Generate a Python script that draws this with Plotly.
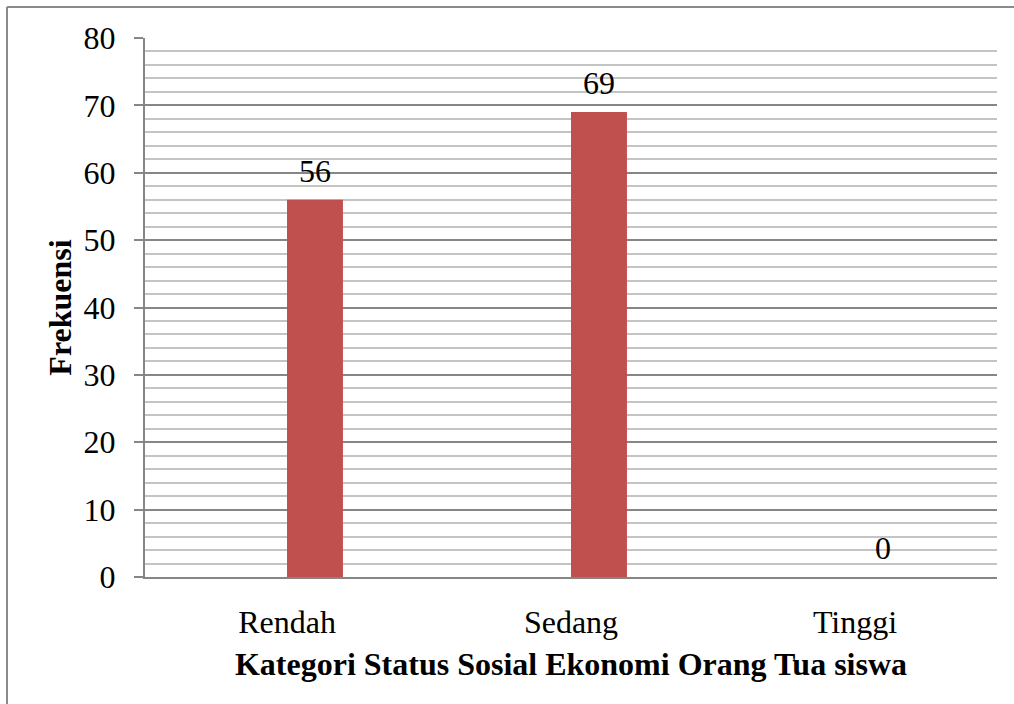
import plotly.graph_objects as go

categories = ["Rendah", "Sedang", "Tinggi"]
values = [56, 69, 0]
blank_series = [None, None, None]
y_ticks = [0, 10, 20, 30, 40, 50, 60, 70, 80]

FONT = "'Liberation Serif', 'Times New Roman', serif"
FS = 32
BAR_COLOR = "#C0504D"

fig = go.Figure()
fig.add_trace(go.Bar(x=categories, y=blank_series, marker_color="rgba(0,0,0,0)",
                     showlegend=False, hoverinfo="skip"))
fig.add_trace(go.Bar(x=categories, y=values, marker_color=BAR_COLOR,
                     marker_line_width=0, showlegend=False))

for c, v in zip(categories, values):
    fig.add_annotation(x=c, y=v, xref="x", yref="y", text=str(v), showarrow=False,
                       xshift=28, yshift=29, yanchor="middle",
                       font=dict(family=FONT, size=FS, color="black"))

fig.update_layout(
    width=1014, height=704,
    margin=dict(l=145, r=17, t=38, b=127),
    paper_bgcolor="white", plot_bgcolor="white",
    barmode="group", bargap=0.606, bargroupgap=0,
    font=dict(family=FONT, size=FS, color="black"),
)
fig.update_xaxes(
    type="category", range=[-0.5, 2.5],
    showline=True, linecolor="#868686", linewidth=2,
    showgrid=False, ticks="outside", ticklen=16, tickcolor="rgba(0,0,0,0)",
    tickfont=dict(family=FONT, size=FS, color="black"),
    title=dict(text="<b>Kategori Status Sosial Ekonomi Orang Tua siswa</b>",
               font=dict(family=FONT, size=FS, color="black"), standoff=13),
)
fig.update_yaxes(
    range=[0, 80], tickvals=y_ticks, ticktext=[str(t) for t in y_ticks],
    showline=True, linecolor="#868686", linewidth=2,
    showgrid=True, gridcolor="#868686", gridwidth=2,
    ticks="outside", ticklen=9, tickcolor="#868686", tickwidth=2,
    ticklabelstandoff=12,
    tickfont=dict(family=FONT, size=FS, color="black"),
    minor=dict(dtick=2, showgrid=True, gridcolor="#c4c4c4", gridwidth=2),
    zeroline=False,
    title=dict(text="<b>Frekuensi</b>", font=dict(family=FONT, size=FS, color="black"),
               standoff=2),
)

# image frame (left and top border)
fig.add_shape(type="line", xref="paper", yref="paper",
              x0=(7 - 145) / 852, x1=(7 - 145) / 852,
              y0=(577 - 7) / 539, y1=(577 - 710) / 539,
              line=dict(color="#8a8a8a", width=2))
fig.add_shape(type="line", xref="paper", yref="paper",
              x0=(7 - 145) / 852, x1=(1020 - 145) / 852,
              y0=(577 - 7) / 539, y1=(577 - 7) / 539,
              line=dict(color="#8a8a8a", width=2))

fig.write_html("out.html")
